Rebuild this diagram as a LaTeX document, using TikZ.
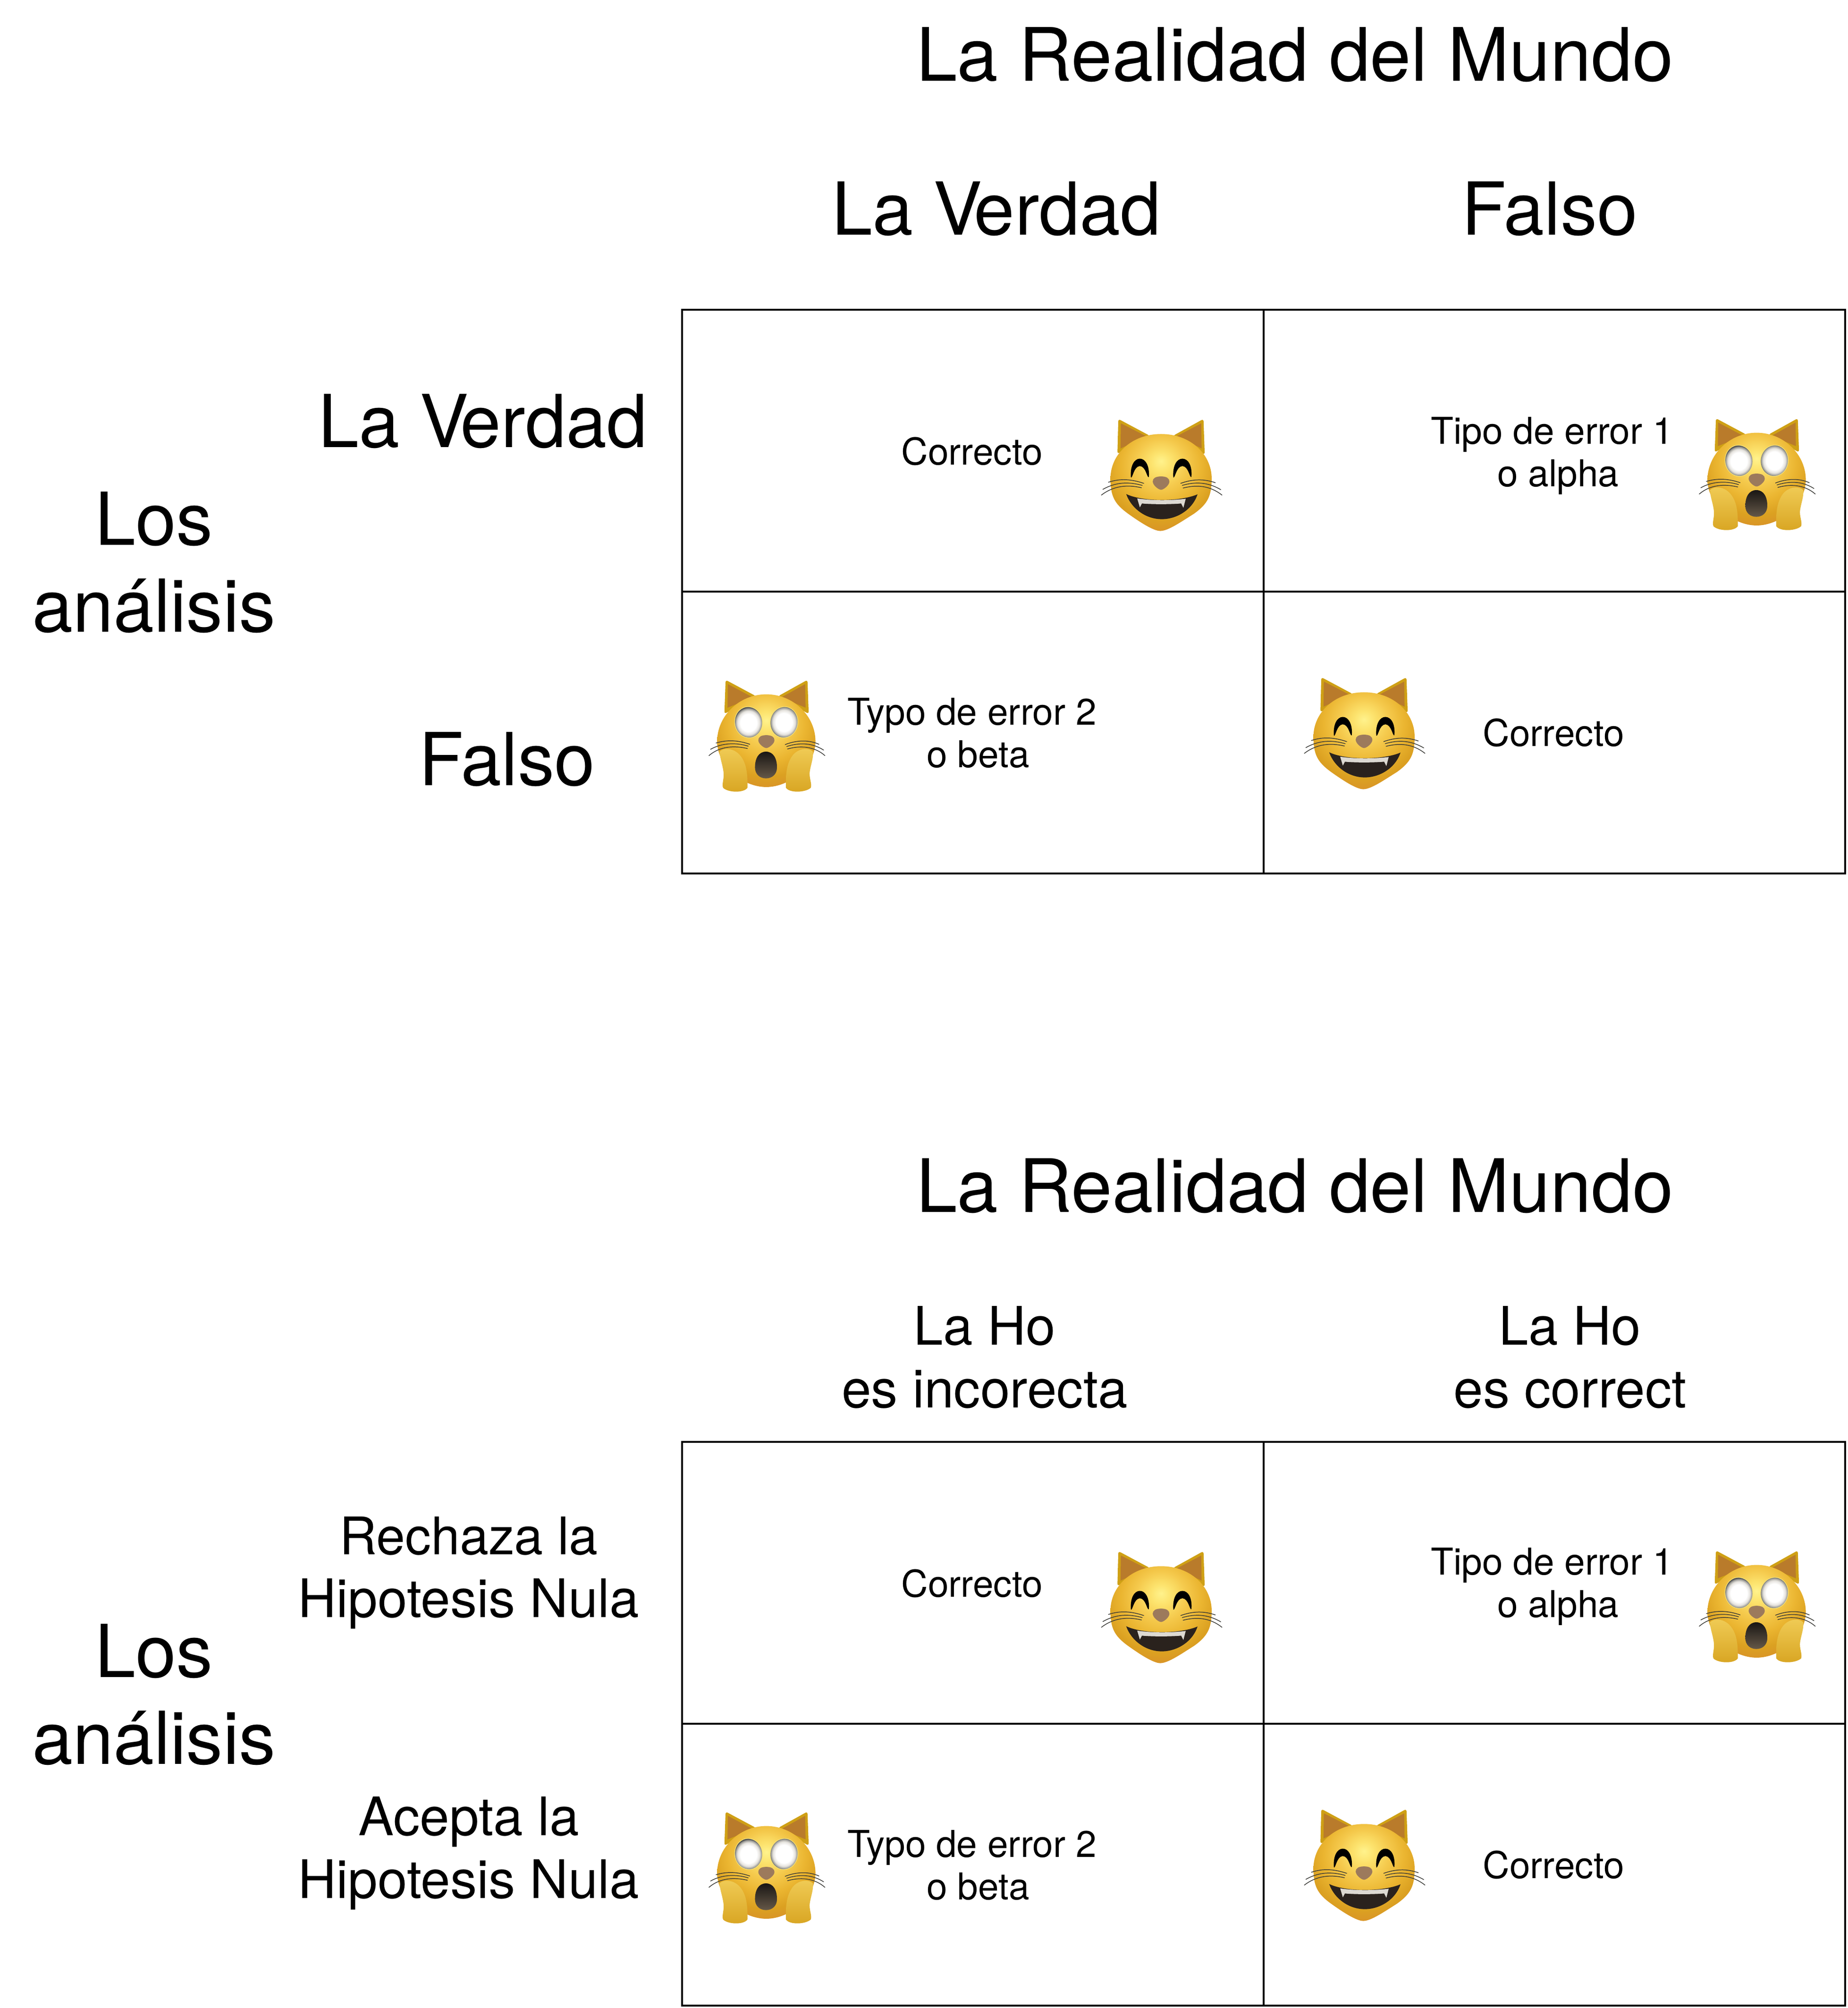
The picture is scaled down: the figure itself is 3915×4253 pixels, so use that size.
\documentclass[tikz,border=0pt]{standalone}
\usepackage{fontspec}
\setmainfont{TeX Gyre Heros}
\pgfdeclareradialshading{catface}{\pgfpoint{0bp}{11bp}}{%
  rgb(0bp)=(1,.95,.55);rgb(5bp)=(.99,.89,.43);rgb(12.5bp)=(.96,.79,.30);rgb(20bp)=(.92,.71,.19);rgb(27.5bp)=(.86,.63,.13);rgb(34bp)=(.85,.57,.16);rgb(100bp)=(.85,.55,.18)}
\pgfdeclareradialshading{cateye}{\pgfpoint{0bp}{0bp}}{%
  rgb(0bp)=(1,1,1);rgb(14bp)=(1,1,1);rgb(19bp)=(.90,.89,.87);rgb(22.5bp)=(.62,.62,.60);rgb(24.5bp)=(.33,.33,.33);rgb(25bp)=(.30,.30,.30);rgb(100bp)=(.30,.30,.30)}
\definecolor{earout}{HTML}{CFA015}
\definecolor{earin}{HTML}{B97B2B}
\definecolor{noseb}{HTML}{9C7A5C}
\definecolor{mouthd}{HTML}{2A221D}
\definecolor{mouthl}{HTML}{655848}
\definecolor{mouthk}{HTML}{191614}
\definecolor{toothc}{HTML}{DDD9D2}
\definecolor{whisk}{HTML}{3A3A36}
\definecolor{handt}{HTML}{F0CB55}
\definecolor{handb}{HTML}{D8A522}
\definecolor{eyerim}{HTML}{F5E27A}
\tikzset{
  x=0.01cm,y=-0.01cm,
  cell/.style={draw=black,line width=1.14pt,minimum width=12.315cm,minimum height=5.97cm,anchor=north west,inner sep=0pt,outer sep=0pt},
  huge/.style={font=\fontsize{44pt}{52.3pt}\selectfont,align=center,inner sep=0pt},
  titletext/.style={font=\fontsize{44.4pt}{52.3pt}\selectfont,align=center,inner sep=0pt},
  mid/.style={font=\fontsize{32pt}{37.8pt}\selectfont,align=center,inner sep=0pt},
  small/.style={font=\fontsize{22.3pt}{25.6pt}\selectfont,align=center,inner sep=0pt},
  catscale/.style={x=0.003333cm,y=-0.003333cm},
  whisker/.style={draw=whisk,line width=0.42pt,line cap=round},
  happycat/.pic={
    \path[fill=earout,rounded corners=1.5pt] (262,335) -- (268,112) -- (470,220) -- cycle;
    \path[fill=earout,rounded corners=1.5pt] (818,340) -- (810,112) -- (615,220) -- cycle;
    \path[fill=earin] (282,300) -- (284,140) -- (445,222) -- cycle;
    \path[fill=earin] (798,300) -- (796,140) -- (640,222) -- cycle;
    \path[shading=catface] (540,208) .. controls (350,208) and (218,340) .. (218,490)
      .. controls (218,600) and (240,650) .. (330,715)
      .. controls (400,765) and (490,825) .. (535,825)
      .. controls (585,825) and (670,765) .. (750,715)
      .. controls (840,650) and (862,600) .. (862,490)
      .. controls (862,340) and (730,208) .. (540,208) -- cycle;
    \path[fill=black] (348,485) .. controls (342,410) and (370,365) .. (405,365)
      .. controls (440,365) and (468,410) .. (462,482)
      .. controls (450,490) and (445,415) .. (405,412)
      .. controls (365,415) and (360,490) .. (348,485) -- cycle;
    \path[fill=black] (618,485) .. controls (612,410) and (640,365) .. (676,365)
      .. controls (712,365) and (740,410) .. (733,482)
      .. controls (722,490) and (716,415) .. (676,412)
      .. controls (636,415) and (630,490) .. (618,485) -- cycle;
    \path[fill=noseb] (540,478) .. controls (505,478) and (487,490) .. (487,510)
      .. controls (487,535) and (525,563) .. (540,563)
      .. controls (555,563) and (593,535) .. (593,510)
      .. controls (593,490) and (575,478) .. (540,478) -- cycle;
    \draw[whisker] (430,522) .. controls (350,495) and (280,490) .. (205,515);
    \draw[whisker] (420,535) .. controls (330,510) and (250,515) .. (170,560);
    \draw[whisker] (415,550) .. controls (330,530) and (240,535) .. (160,597);
    \draw[whisker] (665,522) .. controls (740,495) and (810,492) .. (885,518);
    \draw[whisker] (675,535) .. controls (760,510) and (840,515) .. (920,562);
    \draw[whisker] (680,552) .. controls (765,530) and (850,535) .. (928,597);
    \path[fill=mouthd] (318,590) .. controls (420,640) and (660,640) .. (772,592)
      .. controls (740,690) and (640,750) .. (545,750)
      .. controls (440,750) and (350,680) .. (318,590) -- cycle;
    \path[fill=toothc] (388,618) .. controls (480,632) and (600,632) .. (697,620)
      -- (682,678) -- (668,650) .. controls (600,656) and (480,656) .. (418,650)
      -- (405,675) -- cycle;
  },
  shockcat/.pic={
    \path[fill=earout,rounded corners=1.5pt] (218,325) -- (226,108) -- (420,212) -- cycle;
    \path[fill=earout,rounded corners=1.5pt] (755,325) -- (747,108) -- (560,212) -- cycle;
    \path[fill=earin] (238,285) -- (240,135) -- (400,220) -- cycle;
    \path[fill=earin] (735,285) -- (733,135) -- (580,220) -- cycle;
    \path[shading=catface] (485,200) .. controls (310,200) and (172,340) .. (172,500)
      .. controls (172,650) and (330,790) .. (485,790)
      .. controls (640,790) and (798,650) .. (798,500)
      .. controls (798,340) and (660,200) .. (485,200) -- cycle;
    \path[fill=eyerim,rotate around={8:(372,378)}] (372,378) ellipse [x radius=90,y radius=101];
    \path[fill=eyerim,rotate around={-8:(598,378)}] (598,378) ellipse [x radius=90,y radius=101];
    \path[shading=cateye,rotate around={8:(372,378)}] (372,378) ellipse [x radius=86,y radius=97];
    \path[shading=cateye,rotate around={-8:(598,378)}] (598,378) ellipse [x radius=86,y radius=97];
    \path[fill=noseb] (485,460) .. controls (452,460) and (434,472) .. (434,492)
      .. controls (434,515) and (470,542) .. (485,542)
      .. controls (500,542) and (537,515) .. (537,492)
      .. controls (537,472) and (518,460) .. (485,460) -- cycle;
    \path[top color=mouthk,bottom color=mouthl] (483,565)
      .. controls (435,565) and (413,610) .. (413,665)
      .. controls (413,710) and (445,735) .. (483,735)
      .. controls (521,735) and (553,710) .. (553,665)
      .. controls (553,610) and (531,565) .. (483,565) -- cycle;
    \path[top color=handt,bottom color=handb] (188,565)
      .. controls (210,540) and (270,540) .. (310,580)
      .. controls (350,620) and (368,680) .. (365,795)
      .. controls (340,830) and (240,825) .. (210,795)
      .. controls (200,770) and (220,730) .. (212,690)
      .. controls (205,640) and (190,610) .. (188,565) -- cycle;
    \path[top color=handt,bottom color=handb] (782,565)
      .. controls (760,540) and (700,540) .. (660,580)
      .. controls (625,620) and (605,680) .. (610,795)
      .. controls (635,830) and (735,825) .. (768,795)
      .. controls (778,770) and (755,730) .. (762,690)
      .. controls (770,640) and (785,610) .. (782,565) -- cycle;
    \draw[whisker] (380,518) .. controls (300,490) and (230,490) .. (165,510);
    \draw[whisker] (370,530) .. controls (290,505) and (200,510) .. (130,550);
    \draw[whisker] (365,545) .. controls (280,525) and (190,530) .. (120,590);
    \draw[whisker] (605,520) .. controls (680,490) and (760,490) .. (820,518);
    \draw[whisker] (615,532) .. controls (700,505) and (780,510) .. (850,555);
    \draw[whisker] (620,548) .. controls (700,525) and (790,530) .. (858,590);
  }
}
\begin{document}
\begin{tikzpicture}
\useasboundingbox[fill=white] (0,0) rectangle (3915,4253);
% upper panel
\node[titletext] (t1) at (2743,116) {La Realidad del Mundo};
\node[huge] (c1a) at (2111,442) {La V\kern-.11em erdad};
\node[huge] (c1b) at (3283,442) {Falso};
\node[huge] (r1a) at (1023,892) {La V\kern-.11em erdad};
\node[huge] (r1b) at (1074,1608) {Falso};
\node[huge] (s1) at (326,1191) {Los\\análisis};
\node[cell] (a1) at (1445,656) {};
\node[cell] (b1) at (2676.5,656) {};
\node[cell] (c1) at (1445,1253) {};
\node[cell] (d1) at (2676.5,1253) {};
\node[small] (ta1) at (2059,956) {Correcto};
\node[small] (tb1) at (3288,965) {Tipo de error 1\\\hspace*{0.26cm}o alpha};
\node[small] (tc1) at (2059,1552) {Typo de error 2\\\hspace*{0.26cm}o beta};
\node[small] (td1) at (3291,1552) {Correcto};
\path (2280,850) pic[catscale] {happycat};
\path (3560,850) pic[catscale] {shockcat};
\path (1462,1404) pic[catscale] {shockcat};
\path (2710,1397) pic[catscale] {happycat};
% lower panel
\node[titletext] (t2) at (2743,2512) {La Realidad del Mundo};
\node[mid] (c2a) at (2086,2875) {La Ho\\es incorecta};
\node[mid] (c2b) at (3326,2875) {La Ho\\es correct};
\node[mid] (r2a) at (993,3331) {{\fontsize{31.2pt}{37.8pt}\selectfont Rechaza la}\\Hipotesis Nula};
\node[mid] (r2b) at (993,3925) {Acepta la\\Hipotesis Nula};
\node[huge] (s2) at (326,3589) {Los\\análisis};
\node[cell] (a2) at (1445,3054) {};
\node[cell] (b2) at (2676.5,3054) {};
\node[cell] (c2) at (1445,3651) {};
\node[cell] (d2) at (2676.5,3651) {};
\node[small] (ta2) at (2059,3354) {Correcto};
\node[small] (tb2) at (3288,3360) {Tipo de error 1\\\hspace*{0.26cm}o alpha};
\node[small] (tc2) at (2059,3950) {Typo de error 2\\\hspace*{0.26cm}o beta};
\node[small] (td2) at (3291,3950) {Correcto};
\path (2280,3248) pic[catscale] {happycat};
\path (3560,3248) pic[catscale] {shockcat};
\path (1462,3801) pic[catscale] {shockcat};
\path (2710,3794) pic[catscale] {happycat};
\end{tikzpicture}
\end{document}
